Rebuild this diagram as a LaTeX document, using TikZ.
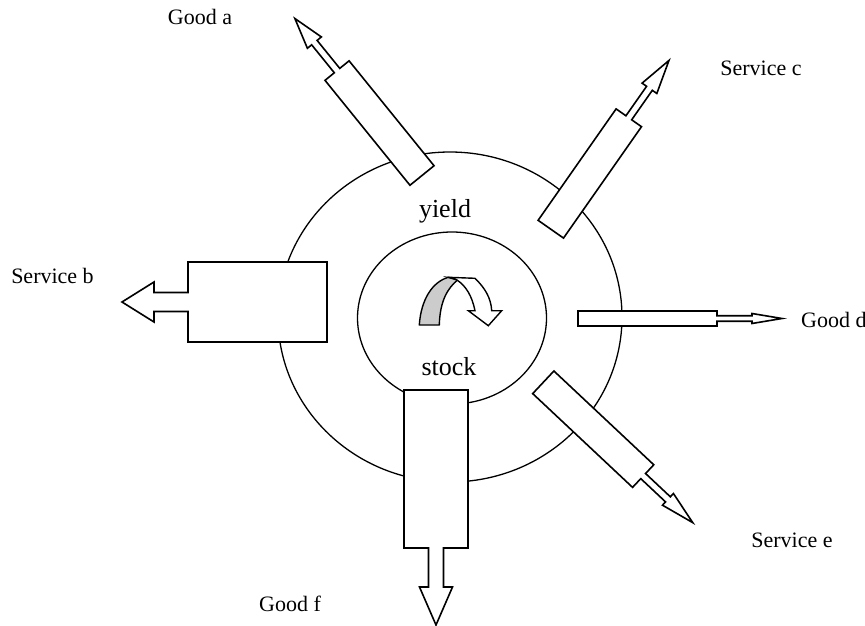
\documentclass[tikz,border=0pt]{standalone}
\usepackage{fontspec}
\setmainfont{Liberation Serif}
\newcommand{\flowarrow}[9]{%
  \begin{scope}[shift={(#1,#2)}, rotate=#3]
    \draw[arrowline] (0,{-(#4)/2}) -- ({#5},{-(#4)/2}) -- ({#5},{-(#6)/2}) -- ({#5+#7},{-(#6)/2})
      -- ({#5+#7},{-(#8)/2}) -- ({#5+#7+#9},0) -- ({#5+#7},{(#8)/2}) -- ({#5+#7},{(#6)/2})
      -- ({#5},{(#6)/2}) -- ({#5},{(#4)/2}) -- (0,{(#4)/2}) -- cycle;
  \end{scope}}
\begin{document}
\begin{tikzpicture}[x=1pt,y=-1pt,
  ring/.style={draw=black, line width=1.3pt},
  arrowline/.style={draw=black, fill=white, line width=1.6pt, line join=miter},
  label/.style={font=\fontsize{22}{24}\selectfont, inner sep=0pt, anchor=base},
  biglabel/.style={font=\fontsize{26}{28}\selectfont, inner sep=0pt, anchor=base}]
\useasboundingbox (0,0) rectangle (865,626);
% circles
\draw[ring] (450,317) ellipse [x radius=172, y radius=165];
\draw[ring] (452,318) ellipse [x radius=94.5, y radius=86];
% arrows: x, y, angle, body width, body length, shaft width, shaft length, head width, head length
\flowarrow{422}{175.5}{129}{31}{135}{7}{36}{18}{31}
\flowarrow{550.8}{229.2}{55}{31}{136}{7}{36}{18}{34}
\flowarrow{543.3}{382.3}{-43.2}{31}{137}{7}{34}{16}{34}
\flowarrow{578}{318.5}{0}{15}{139}{5.5}{35}{10}{30}
\flowarrow{327}{302}{180}{80}{139}{19}{34}{40}{32}
\flowarrow{436}{390}{-90}{64}{158}{15}{39}{33}{38}
% central curved arrow
\draw[line width=1.4pt, fill=black!20, line join=round]
  (419.3,325) .. controls (421,300) and (432,282) .. (448.3,277.3)
  -- (458,279.5) .. controls (448,288) and (440,300) .. (439.3,325) -- cycle;
\draw[line width=1.4pt, fill=white, line join=miter]
  (448.3,277.3) -- (475,278.3) .. controls (485,288) and (491,298) .. (491.7,310.7)
  -- (501.7,310.7) -- (488.3,325.7) -- (468.3,310.7) -- (475,310.7)
  .. controls (472,296) and (466,286) .. (457,280) -- cycle;
% labels
\node[label] (ga) at (200,25) {Good a};
\node[label] (sc) at (761,75) {Service c};
\node[label] (sb) at (52.5,283) {Service b};
\node[label, anchor=base west] (gd) at (801,327) {Good d};
\node[label] (se) at (792,547) {Service e};
\node[label] (gf) at (290,611) {Good f};
\node[biglabel] (yl) at (445,217) {yield};
\node[biglabel] (st) at (449,375) {stock};
\end{tikzpicture}
\end{document}
